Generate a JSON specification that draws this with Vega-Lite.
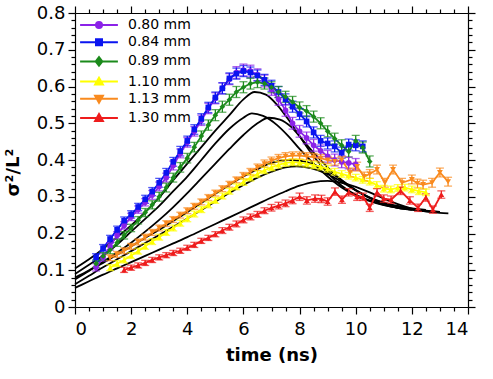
{
  "$schema": "https://vega.github.io/schema/vega-lite/v6.json",
  "width": 393,
  "height": 294,
  "autosize": {"type": "none"},
  "padding": {"left": 75, "top": 13, "right": 25, "bottom": 72},
  "background": "white",
  "config": {
    "view": {"stroke": null},
    "font": "DejaVu Sans",
    "axis": {
      "domainColor": "black", "tickColor": "black", "labelColor": "black", "titleColor": "black",
      "labelFont": "DejaVu Sans", "titleFont": "DejaVu Sans", "labelFontSize": 18, "titleFontSize": 18,
      "titleFontWeight": "bold", "grid": false, "domainWidth": 1.2, "tickWidth": 1.2, "labelOverlap": false
    }
  },
  "datasets": {
    "pts": [
      {"s":"0.80 mm","t":0.75,"v":0.108,"e":0.01},{"s":"0.80 mm","t":1.0,"v":0.135,"e":0.01},{"s":"0.80 mm","t":1.25,"v":0.165,"e":0.01},{"s":"0.80 mm","t":1.5,"v":0.195,"e":0.01},{"s":"0.80 mm","t":1.75,"v":0.222,"e":0.01},{"s":"0.80 mm","t":2.0,"v":0.245,"e":0.01},{"s":"0.80 mm","t":2.25,"v":0.265,"e":0.01},{"s":"0.80 mm","t":2.5,"v":0.285,"e":0.01},{"s":"0.80 mm","t":2.75,"v":0.305,"e":0.012},{"s":"0.80 mm","t":3.0,"v":0.328,"e":0.012},{"s":"0.80 mm","t":3.25,"v":0.352,"e":0.012},{"s":"0.80 mm","t":3.5,"v":0.385,"e":0.012},{"s":"0.80 mm","t":3.75,"v":0.418,"e":0.012},{"s":"0.80 mm","t":4.0,"v":0.448,"e":0.013},{"s":"0.80 mm","t":4.25,"v":0.478,"e":0.013},{"s":"0.80 mm","t":4.5,"v":0.508,"e":0.014},{"s":"0.80 mm","t":4.75,"v":0.54,"e":0.014},{"s":"0.80 mm","t":5.0,"v":0.568,"e":0.015},{"s":"0.80 mm","t":5.25,"v":0.595,"e":0.015},{"s":"0.80 mm","t":5.5,"v":0.62,"e":0.015},{"s":"0.80 mm","t":5.75,"v":0.638,"e":0.016},{"s":"0.80 mm","t":6.0,"v":0.645,"e":0.016},{"s":"0.80 mm","t":6.25,"v":0.642,"e":0.016},{"s":"0.80 mm","t":6.5,"v":0.632,"e":0.016},{"s":"0.80 mm","t":6.75,"v":0.615,"e":0.016},{"s":"0.80 mm","t":7.0,"v":0.592,"e":0.016},{"s":"0.80 mm","t":7.25,"v":0.565,"e":0.016},{"s":"0.80 mm","t":7.5,"v":0.535,"e":0.016},{"s":"0.80 mm","t":7.75,"v":0.5,"e":0.016},{"s":"0.80 mm","t":8.0,"v":0.478,"e":0.016},{"s":"0.80 mm","t":8.25,"v":0.46,"e":0.016},{"s":"0.80 mm","t":8.5,"v":0.44,"e":0.016},{"s":"0.80 mm","t":8.75,"v":0.425,"e":0.016},{"s":"0.80 mm","t":9.0,"v":0.41,"e":0.016},{"s":"0.80 mm","t":9.25,"v":0.4,"e":0.016},{"s":"0.80 mm","t":9.5,"v":0.395,"e":0.016},{"s":"0.80 mm","t":9.75,"v":0.392,"e":0.016},{"s":"0.80 mm","t":10.0,"v":0.388,"e":0.016},
      {"s":"0.84 mm","t":0.75,"v":0.135,"e":0.01},{"s":"0.84 mm","t":1.0,"v":0.16,"e":0.01},{"s":"0.84 mm","t":1.25,"v":0.185,"e":0.01},{"s":"0.84 mm","t":1.5,"v":0.21,"e":0.01},{"s":"0.84 mm","t":1.75,"v":0.235,"e":0.01},{"s":"0.84 mm","t":2.0,"v":0.252,"e":0.01},{"s":"0.84 mm","t":2.25,"v":0.272,"e":0.01},{"s":"0.84 mm","t":2.5,"v":0.293,"e":0.011},{"s":"0.84 mm","t":2.75,"v":0.314,"e":0.011},{"s":"0.84 mm","t":3.0,"v":0.338,"e":0.012},{"s":"0.84 mm","t":3.25,"v":0.365,"e":0.012},{"s":"0.84 mm","t":3.5,"v":0.395,"e":0.012},{"s":"0.84 mm","t":3.75,"v":0.424,"e":0.013},{"s":"0.84 mm","t":4.0,"v":0.452,"e":0.013},{"s":"0.84 mm","t":4.25,"v":0.483,"e":0.013},{"s":"0.84 mm","t":4.5,"v":0.512,"e":0.014},{"s":"0.84 mm","t":4.75,"v":0.543,"e":0.014},{"s":"0.84 mm","t":5.0,"v":0.57,"e":0.015},{"s":"0.84 mm","t":5.25,"v":0.595,"e":0.015},{"s":"0.84 mm","t":5.5,"v":0.622,"e":0.015},{"s":"0.84 mm","t":5.75,"v":0.635,"e":0.015},{"s":"0.84 mm","t":6.0,"v":0.642,"e":0.015},{"s":"0.84 mm","t":6.25,"v":0.638,"e":0.015},{"s":"0.84 mm","t":6.5,"v":0.63,"e":0.015},{"s":"0.84 mm","t":6.75,"v":0.618,"e":0.015},{"s":"0.84 mm","t":7.0,"v":0.602,"e":0.015},{"s":"0.84 mm","t":7.25,"v":0.585,"e":0.015},{"s":"0.84 mm","t":7.5,"v":0.565,"e":0.015},{"s":"0.84 mm","t":7.75,"v":0.545,"e":0.015},{"s":"0.84 mm","t":8.0,"v":0.525,"e":0.015},{"s":"0.84 mm","t":8.25,"v":0.505,"e":0.015},{"s":"0.84 mm","t":8.5,"v":0.475,"e":0.015},{"s":"0.84 mm","t":8.75,"v":0.452,"e":0.015},{"s":"0.84 mm","t":9.0,"v":0.445,"e":0.015},{"s":"0.84 mm","t":9.25,"v":0.437,"e":0.015},{"s":"0.84 mm","t":9.5,"v":0.42,"e":0.015},{"s":"0.84 mm","t":9.75,"v":0.442,"e":0.015},{"s":"0.84 mm","t":10.0,"v":0.44,"e":0.015},{"s":"0.84 mm","t":10.25,"v":0.437,"e":0.015},
      {"s":"0.89 mm","t":0.75,"v":0.118,"e":0.01},{"s":"0.89 mm","t":1.0,"v":0.138,"e":0.01},{"s":"0.89 mm","t":1.25,"v":0.155,"e":0.01},{"s":"0.89 mm","t":1.5,"v":0.175,"e":0.01},{"s":"0.89 mm","t":1.75,"v":0.195,"e":0.01},{"s":"0.89 mm","t":2.0,"v":0.215,"e":0.01},{"s":"0.89 mm","t":2.25,"v":0.236,"e":0.01},{"s":"0.89 mm","t":2.5,"v":0.257,"e":0.011},{"s":"0.89 mm","t":2.75,"v":0.278,"e":0.011},{"s":"0.89 mm","t":3.0,"v":0.3,"e":0.012},{"s":"0.89 mm","t":3.25,"v":0.325,"e":0.012},{"s":"0.89 mm","t":3.5,"v":0.352,"e":0.012},{"s":"0.89 mm","t":3.75,"v":0.38,"e":0.013},{"s":"0.89 mm","t":4.0,"v":0.405,"e":0.013},{"s":"0.89 mm","t":4.25,"v":0.435,"e":0.013},{"s":"0.89 mm","t":4.5,"v":0.465,"e":0.014},{"s":"0.89 mm","t":4.75,"v":0.495,"e":0.014},{"s":"0.89 mm","t":5.0,"v":0.522,"e":0.015},{"s":"0.89 mm","t":5.25,"v":0.545,"e":0.015},{"s":"0.89 mm","t":5.5,"v":0.564,"e":0.015},{"s":"0.89 mm","t":5.75,"v":0.585,"e":0.015},{"s":"0.89 mm","t":6.0,"v":0.598,"e":0.015},{"s":"0.89 mm","t":6.25,"v":0.608,"e":0.015},{"s":"0.89 mm","t":6.5,"v":0.612,"e":0.015},{"s":"0.89 mm","t":6.75,"v":0.608,"e":0.015},{"s":"0.89 mm","t":7.0,"v":0.598,"e":0.015},{"s":"0.89 mm","t":7.25,"v":0.585,"e":0.015},{"s":"0.89 mm","t":7.5,"v":0.572,"e":0.015},{"s":"0.89 mm","t":7.75,"v":0.558,"e":0.015},{"s":"0.89 mm","t":8.0,"v":0.543,"e":0.015},{"s":"0.89 mm","t":8.25,"v":0.533,"e":0.015},{"s":"0.89 mm","t":8.5,"v":0.518,"e":0.015},{"s":"0.89 mm","t":8.75,"v":0.5,"e":0.015},{"s":"0.89 mm","t":9.0,"v":0.478,"e":0.015},{"s":"0.89 mm","t":9.25,"v":0.458,"e":0.015},{"s":"0.89 mm","t":9.5,"v":0.44,"e":0.015},{"s":"0.89 mm","t":9.75,"v":0.423,"e":0.015},{"s":"0.89 mm","t":10.0,"v":0.452,"e":0.015},{"s":"0.89 mm","t":10.25,"v":0.434,"e":0.015},{"s":"0.89 mm","t":10.5,"v":0.396,"e":0.015},
      {"s":"1.10 mm","t":1.25,"v":0.107,"e":0.008},{"s":"1.10 mm","t":1.5,"v":0.118,"e":0.008},{"s":"1.10 mm","t":1.75,"v":0.128,"e":0.008},{"s":"1.10 mm","t":2.0,"v":0.14,"e":0.008},{"s":"1.10 mm","t":2.25,"v":0.152,"e":0.008},{"s":"1.10 mm","t":2.5,"v":0.165,"e":0.008},{"s":"1.10 mm","t":2.75,"v":0.178,"e":0.008},{"s":"1.10 mm","t":3.0,"v":0.19,"e":0.008},{"s":"1.10 mm","t":3.25,"v":0.203,"e":0.008},{"s":"1.10 mm","t":3.5,"v":0.215,"e":0.008},{"s":"1.10 mm","t":3.75,"v":0.228,"e":0.008},{"s":"1.10 mm","t":4.0,"v":0.24,"e":0.008},{"s":"1.10 mm","t":4.25,"v":0.253,"e":0.008},{"s":"1.10 mm","t":4.5,"v":0.265,"e":0.008},{"s":"1.10 mm","t":4.75,"v":0.278,"e":0.008},{"s":"1.10 mm","t":5.0,"v":0.29,"e":0.008},{"s":"1.10 mm","t":5.25,"v":0.302,"e":0.008},{"s":"1.10 mm","t":5.5,"v":0.315,"e":0.008},{"s":"1.10 mm","t":5.75,"v":0.327,"e":0.008},{"s":"1.10 mm","t":6.0,"v":0.34,"e":0.009},{"s":"1.10 mm","t":6.25,"v":0.352,"e":0.009},{"s":"1.10 mm","t":6.5,"v":0.362,"e":0.009},{"s":"1.10 mm","t":6.75,"v":0.372,"e":0.009},{"s":"1.10 mm","t":7.0,"v":0.38,"e":0.009},{"s":"1.10 mm","t":7.25,"v":0.387,"e":0.009},{"s":"1.10 mm","t":7.5,"v":0.392,"e":0.009},{"s":"1.10 mm","t":7.75,"v":0.394,"e":0.009},{"s":"1.10 mm","t":8.0,"v":0.393,"e":0.009},{"s":"1.10 mm","t":8.25,"v":0.39,"e":0.009},{"s":"1.10 mm","t":8.5,"v":0.386,"e":0.009},{"s":"1.10 mm","t":8.75,"v":0.382,"e":0.009},{"s":"1.10 mm","t":9.0,"v":0.376,"e":0.009},{"s":"1.10 mm","t":9.25,"v":0.368,"e":0.009},{"s":"1.10 mm","t":9.5,"v":0.362,"e":0.009},{"s":"1.10 mm","t":9.75,"v":0.357,"e":0.009},{"s":"1.10 mm","t":10.0,"v":0.352,"e":0.009},{"s":"1.10 mm","t":10.25,"v":0.346,"e":0.009},{"s":"1.10 mm","t":10.5,"v":0.341,"e":0.009},{"s":"1.10 mm","t":10.75,"v":0.332,"e":0.009},{"s":"1.10 mm","t":11.0,"v":0.322,"e":0.009},{"s":"1.10 mm","t":11.25,"v":0.32,"e":0.009},{"s":"1.10 mm","t":11.5,"v":0.324,"e":0.009},{"s":"1.10 mm","t":11.75,"v":0.325,"e":0.009},{"s":"1.10 mm","t":12.0,"v":0.32,"e":0.009},{"s":"1.10 mm","t":12.25,"v":0.315,"e":0.009},{"s":"1.10 mm","t":12.5,"v":0.312,"e":0.009},
      {"s":"1.13 mm","t":1.25,"v":0.134,"e":0.008},{"s":"1.13 mm","t":1.5,"v":0.143,"e":0.008},{"s":"1.13 mm","t":1.75,"v":0.153,"e":0.008},{"s":"1.13 mm","t":2.0,"v":0.165,"e":0.008},{"s":"1.13 mm","t":2.25,"v":0.177,"e":0.008},{"s":"1.13 mm","t":2.5,"v":0.19,"e":0.008},{"s":"1.13 mm","t":2.75,"v":0.203,"e":0.008},{"s":"1.13 mm","t":3.0,"v":0.215,"e":0.008},{"s":"1.13 mm","t":3.25,"v":0.227,"e":0.008},{"s":"1.13 mm","t":3.5,"v":0.238,"e":0.008},{"s":"1.13 mm","t":3.75,"v":0.25,"e":0.008},{"s":"1.13 mm","t":4.0,"v":0.262,"e":0.008},{"s":"1.13 mm","t":4.25,"v":0.274,"e":0.008},{"s":"1.13 mm","t":4.5,"v":0.286,"e":0.008},{"s":"1.13 mm","t":4.75,"v":0.298,"e":0.008},{"s":"1.13 mm","t":5.0,"v":0.31,"e":0.008},{"s":"1.13 mm","t":5.25,"v":0.322,"e":0.008},{"s":"1.13 mm","t":5.5,"v":0.334,"e":0.008},{"s":"1.13 mm","t":5.75,"v":0.346,"e":0.008},{"s":"1.13 mm","t":6.0,"v":0.357,"e":0.009},{"s":"1.13 mm","t":6.25,"v":0.368,"e":0.009},{"s":"1.13 mm","t":6.5,"v":0.38,"e":0.009},{"s":"1.13 mm","t":6.75,"v":0.39,"e":0.01},{"s":"1.13 mm","t":7.0,"v":0.398,"e":0.01},{"s":"1.13 mm","t":7.25,"v":0.405,"e":0.01},{"s":"1.13 mm","t":7.5,"v":0.41,"e":0.01},{"s":"1.13 mm","t":7.75,"v":0.412,"e":0.01},{"s":"1.13 mm","t":8.0,"v":0.412,"e":0.01},{"s":"1.13 mm","t":8.25,"v":0.41,"e":0.01},{"s":"1.13 mm","t":8.5,"v":0.408,"e":0.01},{"s":"1.13 mm","t":8.75,"v":0.405,"e":0.01},{"s":"1.13 mm","t":9.0,"v":0.4,"e":0.01},{"s":"1.13 mm","t":9.25,"v":0.396,"e":0.01},{"s":"1.13 mm","t":9.5,"v":0.4,"e":0.01},{"s":"1.13 mm","t":9.8,"v":0.366,"e":0.012},{"s":"1.13 mm","t":10.05,"v":0.382,"e":0.012},{"s":"1.13 mm","t":10.3,"v":0.355,"e":0.012},{"s":"1.13 mm","t":10.5,"v":0.362,"e":0.012},{"s":"1.13 mm","t":10.76,"v":0.374,"e":0.012},{"s":"1.13 mm","t":11.04,"v":0.338,"e":0.012},{"s":"1.13 mm","t":11.33,"v":0.374,"e":0.012},{"s":"1.13 mm","t":11.65,"v":0.338,"e":0.012},{"s":"1.13 mm","t":12.0,"v":0.347,"e":0.012},{"s":"1.13 mm","t":12.2,"v":0.336,"e":0.012},{"s":"1.13 mm","t":12.4,"v":0.333,"e":0.012},{"s":"1.13 mm","t":12.72,"v":0.338,"e":0.012},{"s":"1.13 mm","t":13.0,"v":0.366,"e":0.012},{"s":"1.13 mm","t":13.29,"v":0.341,"e":0.012},
      {"s":"1.30 mm","t":1.75,"v":0.101,"e":0.007},{"s":"1.30 mm","t":2.0,"v":0.107,"e":0.007},{"s":"1.30 mm","t":2.25,"v":0.113,"e":0.007},{"s":"1.30 mm","t":2.5,"v":0.12,"e":0.007},{"s":"1.30 mm","t":2.75,"v":0.128,"e":0.007},{"s":"1.30 mm","t":3.0,"v":0.135,"e":0.007},{"s":"1.30 mm","t":3.25,"v":0.141,"e":0.007},{"s":"1.30 mm","t":3.5,"v":0.147,"e":0.007},{"s":"1.30 mm","t":3.75,"v":0.153,"e":0.007},{"s":"1.30 mm","t":4.0,"v":0.161,"e":0.007},{"s":"1.30 mm","t":4.25,"v":0.169,"e":0.007},{"s":"1.30 mm","t":4.5,"v":0.18,"e":0.007},{"s":"1.30 mm","t":4.75,"v":0.188,"e":0.007},{"s":"1.30 mm","t":5.0,"v":0.198,"e":0.007},{"s":"1.30 mm","t":5.25,"v":0.208,"e":0.008},{"s":"1.30 mm","t":5.5,"v":0.217,"e":0.008},{"s":"1.30 mm","t":5.75,"v":0.226,"e":0.008},{"s":"1.30 mm","t":6.0,"v":0.237,"e":0.008},{"s":"1.30 mm","t":6.25,"v":0.245,"e":0.008},{"s":"1.30 mm","t":6.5,"v":0.252,"e":0.008},{"s":"1.30 mm","t":6.75,"v":0.262,"e":0.008},{"s":"1.30 mm","t":7.0,"v":0.27,"e":0.009},{"s":"1.30 mm","t":7.25,"v":0.276,"e":0.009},{"s":"1.30 mm","t":7.5,"v":0.282,"e":0.009},{"s":"1.30 mm","t":7.75,"v":0.29,"e":0.009},{"s":"1.30 mm","t":8.0,"v":0.3,"e":0.01},{"s":"1.30 mm","t":8.26,"v":0.29,"e":0.01},{"s":"1.30 mm","t":8.55,"v":0.295,"e":0.01},{"s":"1.30 mm","t":8.78,"v":0.294,"e":0.01},{"s":"1.30 mm","t":9.0,"v":0.287,"e":0.01},{"s":"1.30 mm","t":9.26,"v":0.314,"e":0.01},{"s":"1.30 mm","t":9.51,"v":0.292,"e":0.01},{"s":"1.30 mm","t":9.75,"v":0.312,"e":0.01},{"s":"1.30 mm","t":10.05,"v":0.3,"e":0.01},{"s":"1.30 mm","t":10.26,"v":0.3,"e":0.01},{"s":"1.30 mm","t":10.5,"v":0.27,"e":0.01},{"s":"1.30 mm","t":10.76,"v":0.312,"e":0.01},{"s":"1.30 mm","t":11.0,"v":0.295,"e":0.01},{"s":"1.30 mm","t":11.26,"v":0.292,"e":0.01},{"s":"1.30 mm","t":11.6,"v":0.316,"e":0.01},{"s":"1.30 mm","t":11.93,"v":0.29,"e":0.01},{"s":"1.30 mm","t":12.22,"v":0.27,"e":0.01},{"s":"1.30 mm","t":12.5,"v":0.298,"e":0.01},{"s":"1.30 mm","t":12.75,"v":0.265,"e":0.01},{"s":"1.30 mm","t":13.05,"v":0.306,"e":0.01}
    ],
    "fit": [
      {"c":"A","t":0,"v":0.105},{"c":"A","t":0.5,"v":0.13},{"c":"A","t":1,"v":0.158},{"c":"A","t":1.5,"v":0.19},{"c":"A","t":2,"v":0.222},{"c":"A","t":2.5,"v":0.258},{"c":"A","t":3,"v":0.298},{"c":"A","t":3.5,"v":0.345},{"c":"A","t":4,"v":0.39},{"c":"A","t":4.5,"v":0.435},{"c":"A","t":5,"v":0.48},{"c":"A","t":5.5,"v":0.522},{"c":"A","t":6,"v":0.565},{"c":"A","t":6.4,"v":0.585},{"c":"A","t":6.8,"v":0.578},{"c":"A","t":7.2,"v":0.55},{"c":"A","t":7.6,"v":0.51},{"c":"A","t":8,"v":0.465},{"c":"A","t":8.5,"v":0.41},{"c":"A","t":9,"v":0.365},{"c":"A","t":9.5,"v":0.33},{"c":"A","t":10,"v":0.305},{"c":"A","t":10.5,"v":0.29},{"c":"A","t":11,"v":0.278},{"c":"A","t":11.5,"v":0.27},{"c":"A","t":12,"v":0.265},
      {"c":"B","t":0,"v":0.09},{"c":"B","t":0.5,"v":0.115},{"c":"B","t":1,"v":0.14},{"c":"B","t":1.5,"v":0.17},{"c":"B","t":2,"v":0.205},{"c":"B","t":2.5,"v":0.24},{"c":"B","t":3,"v":0.275},{"c":"B","t":3.5,"v":0.315},{"c":"B","t":4,"v":0.355},{"c":"B","t":4.5,"v":0.4},{"c":"B","t":5,"v":0.445},{"c":"B","t":5.5,"v":0.485},{"c":"B","t":6,"v":0.515},{"c":"B","t":6.3,"v":0.527},{"c":"B","t":6.7,"v":0.52},{"c":"B","t":7.2,"v":0.495},{"c":"B","t":7.6,"v":0.465},{"c":"B","t":8,"v":0.43},{"c":"B","t":8.5,"v":0.39},{"c":"B","t":9,"v":0.355},{"c":"B","t":9.5,"v":0.325},{"c":"B","t":10,"v":0.303},{"c":"B","t":10.5,"v":0.288},{"c":"B","t":11,"v":0.277},{"c":"B","t":11.5,"v":0.27},{"c":"B","t":12,"v":0.265},
      {"c":"C","t":0,"v":0.08},{"c":"C","t":0.5,"v":0.1},{"c":"C","t":1,"v":0.123},{"c":"C","t":1.5,"v":0.148},{"c":"C","t":2,"v":0.175},{"c":"C","t":2.5,"v":0.205},{"c":"C","t":3,"v":0.237},{"c":"C","t":3.5,"v":0.272},{"c":"C","t":4,"v":0.31},{"c":"C","t":4.5,"v":0.35},{"c":"C","t":5,"v":0.39},{"c":"C","t":5.5,"v":0.43},{"c":"C","t":6,"v":0.468},{"c":"C","t":6.5,"v":0.5},{"c":"C","t":6.9,"v":0.515},{"c":"C","t":7.3,"v":0.51},{"c":"C","t":7.7,"v":0.49},{"c":"C","t":8.1,"v":0.455},{"c":"C","t":8.5,"v":0.42},{"c":"C","t":9,"v":0.38},{"c":"C","t":9.5,"v":0.345},{"c":"C","t":10,"v":0.318},{"c":"C","t":10.5,"v":0.298},{"c":"C","t":11,"v":0.284},{"c":"C","t":11.5,"v":0.275},{"c":"C","t":12,"v":0.268},{"c":"C","t":12.5,"v":0.264},
      {"c":"D","t":0,"v":0.075},{"c":"D","t":0.5,"v":0.098},{"c":"D","t":1,"v":0.12},{"c":"D","t":1.5,"v":0.142},{"c":"D","t":2,"v":0.165},{"c":"D","t":2.5,"v":0.188},{"c":"D","t":3,"v":0.21},{"c":"D","t":3.5,"v":0.234},{"c":"D","t":4,"v":0.258},{"c":"D","t":4.5,"v":0.283},{"c":"D","t":5,"v":0.308},{"c":"D","t":5.5,"v":0.332},{"c":"D","t":6,"v":0.355},{"c":"D","t":6.5,"v":0.375},{"c":"D","t":7,"v":0.392},{"c":"D","t":7.6,"v":0.4},{"c":"D","t":8.1,"v":0.397},{"c":"D","t":8.6,"v":0.385},{"c":"D","t":9,"v":0.37},{"c":"D","t":9.5,"v":0.345},{"c":"D","t":10,"v":0.318},{"c":"D","t":10.5,"v":0.296},{"c":"D","t":11,"v":0.28},{"c":"D","t":11.5,"v":0.27},{"c":"D","t":12,"v":0.264},{"c":"D","t":12.5,"v":0.26},{"c":"D","t":13,"v":0.258},
      {"c":"E","t":0,"v":0.062},{"c":"E","t":0.5,"v":0.085},{"c":"E","t":1,"v":0.108},{"c":"E","t":1.5,"v":0.13},{"c":"E","t":2,"v":0.152},{"c":"E","t":2.5,"v":0.174},{"c":"E","t":3,"v":0.196},{"c":"E","t":3.5,"v":0.218},{"c":"E","t":4,"v":0.241},{"c":"E","t":4.5,"v":0.264},{"c":"E","t":5,"v":0.287},{"c":"E","t":5.5,"v":0.31},{"c":"E","t":6,"v":0.332},{"c":"E","t":6.5,"v":0.352},{"c":"E","t":7,"v":0.368},{"c":"E","t":7.5,"v":0.38},{"c":"E","t":7.9,"v":0.383},{"c":"E","t":8.4,"v":0.378},{"c":"E","t":8.9,"v":0.365},{"c":"E","t":9.4,"v":0.345},{"c":"E","t":9.9,"v":0.322},{"c":"E","t":10.5,"v":0.298},{"c":"E","t":11,"v":0.283},{"c":"E","t":11.5,"v":0.273},{"c":"E","t":12,"v":0.266},{"c":"E","t":12.5,"v":0.262},{"c":"E","t":13,"v":0.259},
      {"c":"F","t":0,"v":0.052},{"c":"F","t":0.5,"v":0.07},{"c":"F","t":1,"v":0.088},{"c":"F","t":1.5,"v":0.105},{"c":"F","t":2,"v":0.122},{"c":"F","t":2.5,"v":0.139},{"c":"F","t":3,"v":0.156},{"c":"F","t":3.5,"v":0.173},{"c":"F","t":4,"v":0.19},{"c":"F","t":4.5,"v":0.208},{"c":"F","t":5,"v":0.226},{"c":"F","t":5.5,"v":0.244},{"c":"F","t":6,"v":0.262},{"c":"F","t":6.5,"v":0.28},{"c":"F","t":7,"v":0.298},{"c":"F","t":7.5,"v":0.315},{"c":"F","t":8,"v":0.33},{"c":"F","t":8.5,"v":0.34},{"c":"F","t":9,"v":0.343},{"c":"F","t":9.5,"v":0.338},{"c":"F","t":10,"v":0.327},{"c":"F","t":10.5,"v":0.312},{"c":"F","t":11,"v":0.295},{"c":"F","t":11.5,"v":0.28},{"c":"F","t":12,"v":0.268},{"c":"F","t":12.5,"v":0.26},{"c":"F","t":13,"v":0.256},{"c":"F","t":13.3,"v":0.255}
    ]
  },
  "layer": [
    {
      "data": {"name": "fit"},
      "mark": {"type": "line", "color": "black", "strokeWidth": 1.8, "interpolate": "monotone"},
      "encoding": {
        "x": {"field": "t", "type": "quantitative", "scale": {"domain": [0, 14], "nice": false},
          "axis": {"orient": "bottom", "title": "time (ns)", "values": [0,0.5,1,1.5,2,2.5,3,3.5,4,4.5,5,5.5,6,6.5,7,7.5,8,8.5,9,9.5,10,10.5,11,11.5,12,12.5,13,13.5,14],
            "labelExpr": "datum.value % 2 === 0 ? format(datum.value, 'd') : ''",
            "tickSize": {"condition": {"test": "datum.value % 2 === 0", "value": 7}, "value": 4},
            "labelPadding": 6, "titlePadding": 8}},
        "y": {"field": "v", "type": "quantitative", "scale": {"domain": [0, 0.8], "nice": false},
          "axis": {"orient": "left", "title": "σ²/L²", "values": [0,0.02,0.04,0.06,0.08,0.1,0.12,0.14,0.16,0.18,0.2,0.22,0.24,0.26,0.28,0.3,0.32,0.34,0.36,0.38,0.4,0.42,0.44,0.46,0.48,0.5,0.52,0.54,0.56,0.58,0.6,0.62,0.64,0.66,0.68,0.7,0.72,0.74,0.76,0.78,0.8],
            "labelExpr": "abs(datum.value*10 - round(datum.value*10)) < 0.001 ? format(datum.value, '.1~f') : ''",
            "tickSize": {"condition": {"test": "abs(datum.value*10 - round(datum.value*10)) < 0.001", "value": 7}, "value": 4},
            "labelPadding": 3, "titlePadding": 14, "titleY": 159}},
        "detail": {"field": "c"}
      }
    },
    {
      "data": {"name": "pts"},
      "mark": {"type": "line", "strokeWidth": 1.8},
      "encoding": {
        "x": {"field": "t", "type": "quantitative", "scale": {"domain": [0, 14], "nice": false}, "axis": null},
        "y": {"field": "v", "type": "quantitative", "scale": {"domain": [0, 0.8], "nice": false}, "axis": null},
        "color": {"field": "s", "type": "nominal", "scale": {"range": ["#8b22e8","#0a14f0","#1b8a1b","#ffff00","#f98a1e","#ee1c1c"]}, "legend": null}
      }
    },
    {
      "data": {"name": "pts"},
      "mark": {"type": "errorbar", "ticks": {"size": 8}, "thickness": 1.3},
      "encoding": {
        "x": {"field": "t", "type": "quantitative", "scale": {"domain": [0, 14], "nice": false}, "axis": null},
        "y": {"field": "v", "type": "quantitative", "scale": {"domain": [0, 0.8], "nice": false}, "axis": null},
        "yError": {"field": "e"},
        "color": {"field": "s", "type": "nominal", "legend": null}
      }
    },
    {
      "data": {"name": "pts"},
      "transform": [{"filter": {"field": "s", "equal": "0.80 mm"}}],
      "mark": {"type": "point", "filled": true, "size": 32, "opacity": 1, "shape": "circle"},
      "encoding": {
        "x": {"field": "t", "type": "quantitative", "scale": {"domain": [0, 14], "nice": false}, "axis": null},
        "y": {"field": "v", "type": "quantitative", "scale": {"domain": [0, 0.8], "nice": false}, "axis": null},
        "color": {"field": "s", "type": "nominal", "legend": null}
      }
    },
    {
      "data": {"name": "pts"},
      "transform": [{"filter": {"field": "s", "equal": "0.84 mm"}}],
      "mark": {"type": "point", "filled": true, "size": 32, "opacity": 1, "shape": "square"},
      "encoding": {
        "x": {"field": "t", "type": "quantitative", "scale": {"domain": [0, 14], "nice": false}, "axis": null},
        "y": {"field": "v", "type": "quantitative", "scale": {"domain": [0, 0.8], "nice": false}, "axis": null},
        "color": {"field": "s", "type": "nominal", "legend": null}
      }
    },
    {
      "data": {"name": "pts"},
      "transform": [{"filter": {"field": "s", "equal": "0.89 mm"}}],
      "mark": {"type": "point", "filled": true, "size": 32, "opacity": 1, "shape": "diamond"},
      "encoding": {
        "x": {"field": "t", "type": "quantitative", "scale": {"domain": [0, 14], "nice": false}, "axis": null},
        "y": {"field": "v", "type": "quantitative", "scale": {"domain": [0, 0.8], "nice": false}, "axis": null},
        "color": {"field": "s", "type": "nominal", "legend": null}
      }
    },
    {
      "data": {"name": "pts"},
      "transform": [{"filter": {"field": "s", "oneOf": ["1.10 mm", "1.30 mm"]}}],
      "mark": {"type": "point", "filled": true, "size": 34, "opacity": 1, "shape": "triangle-up"},
      "encoding": {
        "x": {"field": "t", "type": "quantitative", "scale": {"domain": [0, 14], "nice": false}, "axis": null},
        "y": {"field": "v", "type": "quantitative", "scale": {"domain": [0, 0.8], "nice": false}, "axis": null},
        "color": {"field": "s", "type": "nominal", "legend": null}
      }
    },
    {
      "data": {"name": "pts"},
      "transform": [{"filter": {"field": "s", "equal": "1.13 mm"}}],
      "mark": {"type": "point", "filled": true, "size": 34, "opacity": 1, "shape": "triangle-down"},
      "encoding": {
        "x": {"field": "t", "type": "quantitative", "scale": {"domain": [0, 14], "nice": false}, "axis": null},
        "y": {"field": "v", "type": "quantitative", "scale": {"domain": [0, 0.8], "nice": false}, "axis": null},
        "color": {"field": "s", "type": "nominal", "legend": null}
      }
    },
    {
      "data": {"name": "pts"},
      "mark": {"type": "point", "opacity": 0, "size": 36},
      "encoding": {
        "x": {"field": "t", "type": "quantitative", "scale": {"domain": [0, 14], "nice": false}, "axis": null},
        "y": {"field": "v", "type": "quantitative", "scale": {"domain": [0, 0.8], "nice": false}, "axis": null},
        "fill": {"field": "s", "type": "nominal", "scale": {"domain": ["0.80 mm","0.84 mm","0.89 mm","1.10 mm","1.13 mm","1.30 mm"], "range": ["#8b22e8","#0a14f0","#1b8a1b","#ffff00","#f98a1e","#ee1c1c"]},
          "legend": {"orient": "none", "legendX": 0, "legendY": 5, "title": null, "padding": 0, "labelFont": "DejaVu Sans", "labelFontSize": 14, "labelColor": "black", "symbolSize": 36, "symbolStrokeWidth": 2, "symbolOffset": 17, "labelOffset": 22, "rowPadding": 3.2, "symbolOpacity": 1}},
        "stroke": {"field": "s", "type": "nominal", "scale": {"domain": ["0.80 mm","0.84 mm","0.89 mm","1.10 mm","1.13 mm","1.30 mm"], "range": ["#8b22e8","#0a14f0","#1b8a1b","#ffff00","#f98a1e","#ee1c1c"]},
          "legend": {"orient": "none", "legendX": 0, "legendY": 5, "title": null, "padding": 0, "labelFont": "DejaVu Sans", "labelFontSize": 14, "labelColor": "black", "symbolSize": 36, "symbolStrokeWidth": 2, "symbolOffset": 17, "labelOffset": 22, "rowPadding": 3.2, "symbolOpacity": 1}},
        "shape": {"field": "s", "type": "nominal", "scale": {"domain": ["0.80 mm","0.84 mm","0.89 mm","1.10 mm","1.13 mm","1.30 mm"], "range": [
          "M-6.3,0H6.3M-1,0A1,1,0,1,0,1,0A1,1,0,1,0,-1,0Z",
          "M-6.3,0H6.3M-1,-1H1V1H-1Z",
          "M-6.3,0H6.3M0,-1.4L1.1,0L0,1.4L-1.1,0Z",
          "M-6.3,0H6.3M0,-1.3L1.3,1L-1.3,1Z",
          "M-6.3,0H6.3M0,1.3L1.3,-1L-1.3,-1Z",
          "M-6.3,0H6.3M0,-1.3L1.3,1L-1.3,1Z"]},
          "legend": {"orient": "none", "legendX": 0, "legendY": 5, "title": null, "padding": 0, "labelFont": "DejaVu Sans", "labelFontSize": 14, "labelColor": "black", "symbolSize": 36, "symbolStrokeWidth": 2, "symbolOffset": 17, "labelOffset": 22, "rowPadding": 3.2, "symbolOpacity": 1}}
      }
    },
    {
      "data": {"values": [{"t": 0, "v": 0}]},
      "mark": {"type": "point", "opacity": 0},
      "encoding": {
        "x": {"field": "t", "type": "quantitative", "scale": {"domain": [0, 14], "nice": false},
          "axis": {"orient": "top", "title": null, "labels": false, "values": [0,0.5,1,1.5,2,2.5,3,3.5,4,4.5,5,5.5,6,6.5,7,7.5,8,8.5,9,9.5,10,10.5,11,11.5,12,12.5,13,13.5,14],
            "tickSize": {"condition": {"test": "datum.value % 2 === 0", "value": 7}, "value": 4}}},
        "y": {"field": "v", "type": "quantitative", "scale": {"domain": [0, 0.8], "nice": false},
          "axis": {"orient": "right", "title": null, "labels": false, "values": [0,0.02,0.04,0.06,0.08,0.1,0.12,0.14,0.16,0.18,0.2,0.22,0.24,0.26,0.28,0.3,0.32,0.34,0.36,0.38,0.4,0.42,0.44,0.46,0.48,0.5,0.52,0.54,0.56,0.58,0.6,0.62,0.64,0.66,0.68,0.7,0.72,0.74,0.76,0.78,0.8],
            "tickSize": {"condition": {"test": "abs(datum.value*10 - round(datum.value*10)) < 0.001", "value": 7}, "value": 4}}}
      }
    }
  ],
  "resolve": {"axis": {"x": "independent", "y": "independent"}}
}
